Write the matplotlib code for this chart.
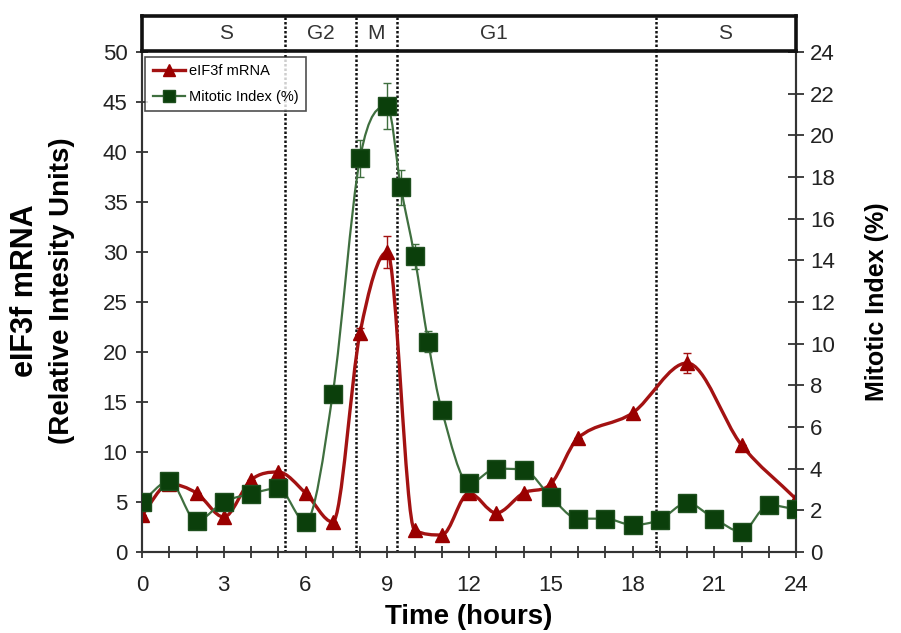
import matplotlib.pyplot as plt
import numpy as np
from matplotlib.path import Path
from matplotlib.patches import PathPatch
from matplotlib.lines import Line2D

plt.rcParams['font.family'] = ['Liberation Sans', 'DejaVu Sans']

# eIF3f mRNA (left axis)
t_mrna = [0, 1, 2, 3, 4, 5, 6, 7, 8, 9, 10, 11, 12, 13, 14, 15, 16, 18, 20, 22, 24]
mrna = [3.7, 6.8, 5.9, 3.5, 7.2, 8.0, 5.9, 3.0, 21.9, 30.0, 2.2, 1.7, 5.9, 3.9,
        5.9, 6.8, 11.4, 13.9, 18.9, 10.7, 5.3]
mrna_err = [0, 0, 0, 0, 0, 0, 0, 0, 0.5, 1.6, 0, 0, 0, 0, 0, 0, 0, 0, 1.0, 0, 0]

# mitotic index (right axis)
t_mi = [0, 1, 2, 3, 4, 5, 6, 7, 8, 9, 9.5, 10, 10.5, 11, 12, 13, 14, 15, 16, 17,
        18, 19, 20, 21, 22, 23, 24]
mi = [2.4, 3.4, 1.5, 2.4, 2.8, 3.05, 1.45, 7.6, 18.9, 21.4, 17.5, 14.2, 10.1, 6.8,
      3.3, 4.0, 3.95, 2.65, 1.6, 1.6, 1.3, 1.55, 2.35, 1.6, 0.98, 2.25, 2.05]
mi_err = [0, 0, 0, 0, 0, 0, 0, 0, 0.9, 1.1, 0.85, 0.6, 0.5, 0.3, 0, 0, 0, 0, 0, 0,
          0, 0, 0, 0, 0, 0, 0]

phase_bounds = [5.25, 7.85, 9.35, 18.85]
phase_names = ['S', 'G2', 'M', 'G1', 'S']
phase_pos = [3.1, 6.55, 8.6, 12.9, 21.4]

red = '#a31212'
red_dark = '#9a0000'
green_line = '#3f6f3f'
green_dark = '#0b3f0b'


def smooth_path(x, y):
    # smooth bezier through the points, tangents limited so it does not overshoot
    x = np.asarray(x, float)
    y = np.asarray(y, float)
    n = len(x)
    h = np.diff(x)
    d = np.diff(y) / h
    m = np.zeros(n)
    m[0], m[-1] = d[0], d[-1]
    for i in range(1, n - 1):
        if d[i - 1] * d[i] <= 0:
            m[i] = 0
        else:
            m[i] = (y[i + 1] - y[i - 1]) / (x[i + 1] - x[i - 1])
            lim = 3 * min(abs(d[i - 1]), abs(d[i]))
            m[i] = np.sign(m[i]) * min(abs(m[i]), lim)
    verts = [(x[0], y[0])]
    codes = [Path.MOVETO]
    for i in range(n - 1):
        verts += [(x[i] + h[i] / 3, y[i] + m[i] * h[i] / 3),
                  (x[i + 1] - h[i] / 3, y[i + 1] - m[i + 1] * h[i] / 3),
                  (x[i + 1], y[i + 1])]
        codes += [Path.CURVE4] * 3
    return Path(verts, codes)


fig = plt.figure(figsize=(9.01, 6.33), dpi=100)
left, right = 142 / 901, 796 / 901
bottom, top = 1 - 552 / 633, 1 - 52 / 633
ax = fig.add_axes([left, bottom, right - left, top - bottom])
ax2 = ax.twinx()

# red series
ax.add_patch(PathPatch(smooth_path(t_mrna, mrna), fill=False, ec=red, lw=2.4, zorder=2))
ax.errorbar(t_mrna, mrna, yerr=mrna_err, fmt='none', ecolor=red, elinewidth=1, capsize=3, zorder=2)
ax.plot(t_mrna, mrna, ls='none', marker='^', ms=10, mfc=red_dark, mec=red_dark, zorder=3)

# green series
ax2.add_patch(PathPatch(smooth_path(t_mi, mi), fill=False, ec=green_line, lw=1.6, zorder=2))
ax2.errorbar(t_mi, mi, yerr=mi_err, fmt='none', ecolor=green_line, elinewidth=1, capsize=3, zorder=2)
ax2.plot(t_mi, mi, ls='none', marker='s', ms=12.5, mfc=green_dark, mec='#1e4f1e', zorder=3)

for b in phase_bounds:
    ax.axvline(b, color='#111111', lw=1.8, ls=(0, (1, 0.8)), zorder=1)

ax.set_xlim(0, 24)
ax.set_ylim(0, 50)
ax2.set_ylim(0, 24)
ax.set_xticks(np.arange(0, 25, 3))
ax.set_xticks(np.arange(0, 25, 1), minor=True)
ax.set_yticks(np.arange(0, 51, 5))
ax2.set_yticks(np.arange(0, 25, 2))

spine_c = '#333333'
for a in (ax, ax2):
    a.spines['top'].set_visible(False)
    for s in ('left', 'right', 'bottom'):
        a.spines[s].set_color(spine_c)
        a.spines[s].set_linewidth(1.5)
ax.tick_params(axis='y', which='major', direction='inout', length=9, width=1.3,
               color=spine_c, labelsize=16, labelcolor='#222222', pad=6)
ax.tick_params(axis='x', which='major', direction='inout', length=9, width=1.3,
               color=spine_c, labelsize=16, labelcolor='#222222', pad=12)
ax.tick_params(axis='x', which='minor', direction='inout', length=9, width=1.3, color=spine_c)
ax2.tick_params(axis='y', direction='inout', length=12, width=1.3, color=spine_c,
                labelsize=16, labelcolor='#222222', pad=4)

ax.set_xlabel('Time (hours)', fontsize=20, fontweight='bold', labelpad=6)
ax2.set_ylabel('Mitotic Index (%)', fontsize=18, fontweight='bold', labelpad=22)
fig.text(0.028, 0.54, 'eIF3f mRNA', rotation=90, fontsize=22, fontweight='bold',
         ha='center', va='center')
fig.text(0.069, 0.54, '(Relative Intesity Units)', rotation=90, fontsize=20,
         fontweight='bold', ha='center', va='center')

handles = [
    Line2D([], [], color=red, lw=2.4, marker='^', ms=8, mfc=red_dark, mec=red_dark),
    Line2D([], [], color=green_line, lw=1.6, marker='s', ms=9, mfc=green_dark, mec='#1e4f1e'),
]
leg = ax2.legend(handles, ['eIF3f mRNA', 'Mitotic Index (%)'], loc='upper left',
                 bbox_to_anchor=(0.005, 0.99), borderaxespad=0, fontsize=10.5,
                 frameon=True, fancybox=False, handlelength=2.2, handletextpad=0.3,
                 borderpad=0.5, labelspacing=0.8)
leg.get_frame().set_edgecolor('#222222')
leg.get_frame().set_linewidth(1.2)

# phase band on top
band = fig.add_axes([left, 1 - 51 / 633, right - left, 35 / 633])
band.set_xlim(0, 24)
band.set_ylim(0, 1)
band.set_xticks([])
band.set_yticks([])
for s in band.spines.values():
    s.set_linewidth(2.6)
    s.set_color('#111111')
for b in phase_bounds:
    band.axvline(b, color='#111111', lw=1.8, ls=(0, (1, 0.8)))
for name, p in zip(phase_names, phase_pos):
    band.text(p, 0.5, name, ha='center', va='center', fontsize=15, color='#333333')

fig.savefig('out.png', dpi=100)
